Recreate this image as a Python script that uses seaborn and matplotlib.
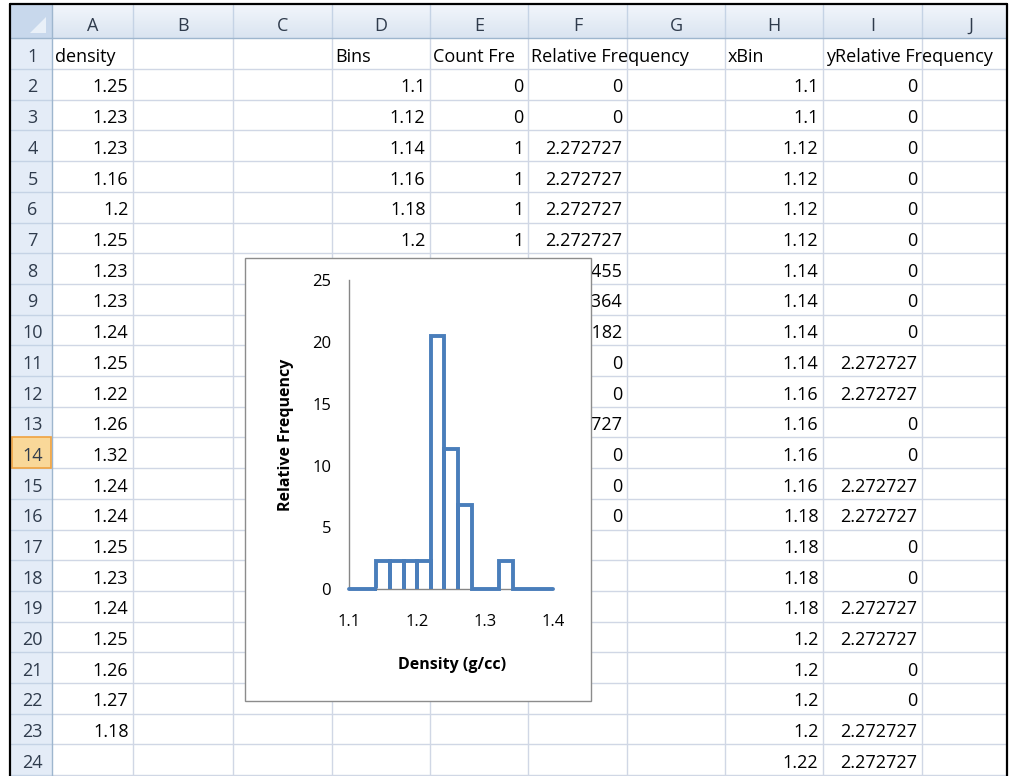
import numpy as np
import pandas as pd
import matplotlib
matplotlib.use("Agg")
import matplotlib.pyplot as plt
import seaborn as sns
from matplotlib.patches import Rectangle, Polygon
from matplotlib.transforms import Bbox

# ---------------- data ----------------
density = [1.25, 1.23, 1.23, 1.16, 1.2, 1.25, 1.23, 1.23, 1.24, 1.25, 1.22,
           1.26, 1.32, 1.24, 1.24, 1.25, 1.23, 1.24, 1.25, 1.26, 1.27, 1.18]
bins = [1.1, 1.12, 1.14, 1.16, 1.18, 1.2, 1.22, 1.24, 1.26, 1.28, 1.3,
        1.32, 1.34, 1.36, 1.38]
count_freq = [0, 0, 1, 1, 1, 1, 9, 5, 3, 0, 0, 1, 0, 0, 0]
rel_freq = [0, 0, 2.272727, 2.272727, 2.272727, 2.272727, 20.45455,
            11.36364, 6.818182, 0, 0, 2.272727, 0, 0, 0]
bin_width = 0.02
col_letters = ["A", "B", "C", "D", "E", "F", "G", "H", "I", "J"]
# header texts as displayed (E1 is cut off by F1)
header_row = {"A": "density", "D": "Bins", "E": "Count Fre",
              "F": "Relative Frequency", "H": "xBin", "I": "yRelative Frequency"}
x_ticks = [1.1, 1.2, 1.3, 1.4]
y_ticks = [0, 5, 10, 15, 20, 25]
x_title = "Density (g/cc)"
y_title = "Relative Frequency"

# step outline of the histogram (xBin / yRelative Frequency columns)
xbin, ybin = [], []
for b, v in zip(bins, rel_freq):
    xbin += [b, b, b + bin_width, b + bin_width]
    ybin += [0, v, v, 0]

# ---------------- figure ----------------
W, H = 1011, 776
sns.set_style("white")
plt.rcParams["font.family"] = ["Open Sans", "DejaVu Sans"]
fig = plt.figure(figsize=(W / 100, H / 100), dpi=100)

bg = fig.add_axes([0, 0, 1, 1])
bg.set_xlim(0, W)
bg.set_ylim(H, 0)
bg.axis("off")

col_edges = [11, 52, 133, 233, 332, 430, 528, 627, 725, 823, 922, 1006]
HDR_TOP, ROW1 = 5, 38.3
RH = 30.7
def row_top(n):
    return ROW1 + (n - 1) * RH
nrows = 24
right_edge = 1005.5

grid_c = "#D0D7E5"
hdr_line = "#9EB6CE"
hdr_sep = "#C5D3E5"
hdr_txt = "#2F3B4C"
font_cell = 13

# column header gradient
grad = np.linspace(0, 1, 30).reshape(-1, 1)
c_top = np.array([0.95, 0.965, 0.985])
c_bot = np.array([0.855, 0.895, 0.945])
img = c_top[None, None, :] * (1 - grad[:, :, None]) + c_bot[None, None, :] * grad[:, :, None]
img = np.repeat(img, 2, axis=1)
bg.imshow(img, extent=(col_edges[1], right_edge, ROW1, HDR_TOP), origin="upper",
          aspect="auto", zorder=1)
# row header column
bg.add_patch(Rectangle((col_edges[0], ROW1), col_edges[1] - col_edges[0], H - ROW1,
                       facecolor="#E4ECF7", edgecolor="none", zorder=1))
# corner cell
bg.add_patch(Rectangle((col_edges[0], HDR_TOP), col_edges[1] - col_edges[0], ROW1 - HDR_TOP,
                       facecolor="#C8D8EC", edgecolor="none", zorder=1))
bg.add_patch(Polygon([(30, 33), (46, 33), (46, 17)], closed=True,
                     facecolor="#E9F0F8", edgecolor="none", zorder=2))
# highlighted row 14 header
bg.add_patch(Rectangle((col_edges[0] + 0.5, row_top(14)), col_edges[1] - col_edges[0] - 1.5, RH,
                       facecolor="#F9D899", edgecolor="#F0A341", lw=1.2, zorder=3))

# gridlines of the cells
for x in col_edges[2:-1]:
    bg.plot([x, x], [ROW1, H], color=grid_c, lw=1, zorder=2)
for n in range(2, nrows + 2):
    bg.plot([col_edges[1], right_edge], [row_top(n), row_top(n)], color=grid_c, lw=1, zorder=2)
# header separators
for x in col_edges[2:-1]:
    bg.plot([x, x], [HDR_TOP, ROW1], color=hdr_sep, lw=1, zorder=2)
for n in range(2, nrows + 2):
    bg.plot([col_edges[0], col_edges[1]], [row_top(n), row_top(n)], color=hdr_sep, lw=1, zorder=2)
bg.plot([col_edges[0], right_edge], [ROW1, ROW1], color=hdr_line, lw=1, zorder=2)
bg.plot([col_edges[1], col_edges[1]], [HDR_TOP, H], color=hdr_line, lw=1, zorder=2)

# black frame
bg.plot([10, 10], [3.5, H], color="black", lw=1.6, zorder=20)
bg.plot([10, 1006.5], [3.5, 3.5], color="black", lw=1.6, zorder=20)
bg.plot([1006.5, 1006.5], [3.5, H], color="black", lw=1.6, zorder=20)

# column letters
for i, L in enumerate(col_letters):
    x0, x1 = col_edges[i + 1], min(col_edges[i + 2], right_edge)
    xc = (x0 + x1) / 2 if L != "J" else (col_edges[i + 1] + 1020) / 2
    bg.text(xc, 31, L, ha="center", va="baseline", fontsize=font_cell, color=hdr_txt, zorder=5)
# row numbers
for n in range(1, nrows + 1):
    bg.text((col_edges[0] + col_edges[1]) / 2 + 1, row_top(n) + 23.5, str(n), ha="center",
            va="baseline", fontsize=font_cell, color=hdr_txt, zorder=5)

def fmt(v):
    return f"{v:.7g}"

def cell(col, row, s, align="right", clip_right=None):
    i = col_letters.index(col)
    x0, x1 = col_edges[i + 1], col_edges[i + 2]
    y = row_top(row) + 23.5
    if align == "right":
        t = bg.text(x1 - 4.5, y, s, ha="right", va="baseline", fontsize=font_cell,
                    color="black", zorder=5)
    else:
        t = bg.text(x0 + 3, y, s, ha="left", va="baseline", fontsize=font_cell,
                    color="black", zorder=5)
    if clip_right is not None:
        t.set_clip_box(Bbox.from_extents(x0, H - row_top(row + 1), clip_right, H - row_top(row)))
        t.set_clip_on(True)
    return t

# header row texts
for col, s in header_row.items():
    clip = right_edge - 1 if col == "I" else None
    cell(col, 1, s, align="left", clip_right=clip)

for k, v in enumerate(density):
    cell("A", k + 2, fmt(v))
for k, (b, c, r) in enumerate(zip(bins, count_freq, rel_freq)):
    cell("D", k + 2, fmt(b))
    cell("E", k + 2, fmt(c))
    cell("F", k + 2, fmt(r))
for k in range(nrows - 1):
    cell("H", k + 2, fmt(xbin[k]))
    cell("I", k + 2, fmt(ybin[k]))

# chart area box (covers cells beneath)
bg.add_patch(Rectangle((245, 258), 591 - 245, 701 - 258, facecolor="white",
                       edgecolor="#8C8C8C", lw=1.0, zorder=10))

# ---------------- embedded chart ----------------
ax_l, ax_r, ax_t, ax_b = 349.3, 553.3, 280.0, 589.3
ax = fig.add_axes([ax_l / W, 1 - ax_b / H, (ax_r - ax_l) / W, (ax_b - ax_t) / H], zorder=2)
ax.set_facecolor("none")
df = pd.DataFrame({"xBin": xbin, "yRelative Frequency": ybin})
sns.lineplot(data=df, x="xBin", y="yRelative Frequency", sort=False, estimator=None,
             ax=ax, color="#4A7EBB", linewidth=2.8, clip_on=False, zorder=3)
line = ax.get_lines()[0]
line.set_solid_joinstyle("miter")
ax.set_xlim(1.1, 1.4)
ax.set_ylim(0, 25)
ax.set_xticks(x_ticks)
ax.set_xticklabels([f"{v:.1f}" for v in x_ticks])
ax.set_yticks(y_ticks)
ax.set_yticklabels([str(v) for v in y_ticks])
ax.set_xlabel("")
ax.set_ylabel("")
for s in ["top", "right"]:
    ax.spines[s].set_visible(False)
for s in ["left", "bottom"]:
    ax.spines[s].set_color("#868686")
    ax.spines[s].set_linewidth(1.0)
ax.tick_params(axis="x", direction="out", length=5, width=1, color="#868686",
               pad=13, labelsize=12, labelcolor="black")
ax.tick_params(axis="y", direction="out", length=4.5, width=1, color="#868686",
               pad=8.5, labelsize=12, labelcolor="black")
ax.grid(False)

fig.text(451.7 / W, 1 - 665 / H, x_title, ha="center", va="center",
         fontsize=11.5, fontweight="bold", color="black")
fig.text(286 / W, 1 - 435 / H, y_title, ha="center", va="center", rotation=90,
         fontsize=11.5, fontweight="bold", color="black")

fig.savefig("out.png", dpi=100, facecolor="white")
